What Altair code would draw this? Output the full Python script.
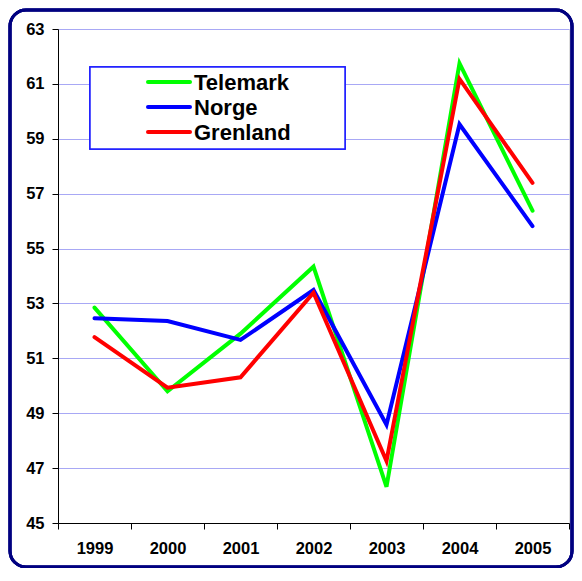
import altair as alt
import pandas as pd

years = ["1999", "2000", "2001", "2002", "2003", "2004", "2005"]
series = ["Telemark", "Norge", "Grenland"]
colors = ["#00ff00", "#0000ff", "#ff0000"]
telemark = [52.85, 49.8, 51.9, 54.34, 46.32, 61.75, 56.38]
norge = [52.46, 52.36, 51.67, 53.49, 48.58, 59.53, 55.82]
grenland = [51.77, 49.93, 50.31, 53.39, 47.26, 61.18, 57.39]

rows = []
for name, vals in zip(series, [telemark, norge, grenland]):
    for y, v in zip(years, vals):
        rows.append({"year": y, "series": name, "value": v})
df = pd.DataFrame(rows)
leg_df = pd.DataFrame({"series": series, "idx": list(range(len(series)))})

W, H = 511, 494
FONT = "Liberation Sans"

color_scale = alt.Scale(domain=series, range=colors)

lines = alt.Chart(df).mark_line(strokeWidth=4, strokeCap="round").encode(
    x=alt.X(
        "year:O",
        scale=alt.Scale(type="band", paddingInner=0, paddingOuter=0),
        bandPosition=0.5,
        axis=alt.Axis(
            title=None, labelAngle=0, tickBand="extent", grid=False,
            labelFont=FONT, labelFontSize=16.5, labelFontWeight="bold",
            labelColor="#000000", labelPadding=11, tickSize=6,
            tickColor="#000000", domainColor="#000000", domainWidth=1,
        ),
    ),
    y=alt.Y(
        "value:Q",
        scale=alt.Scale(domain=[45, 63], nice=False, zero=False),
        axis=alt.Axis(
            title=None, values=list(range(45, 64, 2)), grid=True,
            gridColor="#a8a8f5", gridWidth=1,
            labelFont=FONT, labelFontSize=16.5, labelFontWeight="bold",
            labelColor="#000000", labelPadding=8, tickSize=6,
            tickColor="#000000", domainColor="#000000", domainWidth=1,
        ),
    ),
    color=alt.Color("series:N", scale=color_scale, legend=None),
    detail="series:N",
)

# outer rounded border
border = alt.Chart(leg_df).mark_rect(
    fill=None, stroke="#000080", strokeWidth=3, cornerRadius=16
).encode(
    x=alt.value(-48), x2=alt.value(W + 3),
    y=alt.value(-19), y2=alt.value(H + 44),
)

# legend box
leg_box = alt.Chart(leg_df).mark_rect(
    fill="white", stroke="#2020ff", strokeWidth=1.5
).encode(
    x=alt.value(32), x2=alt.value(287),
    y=alt.value(38), y2=alt.value(120),
)

leg_y = alt.Y("idx:Q", scale=alt.Scale(domain=[0, 2], range=[53, 103]), axis=None)
leg_lines = alt.Chart(leg_df).mark_rule(strokeWidth=4, strokeCap="round").encode(
    x=alt.value(90), x2=alt.value(132),
    y=leg_y,
    color=alt.Color("series:N", scale=color_scale, legend=None),
)
leg_text = alt.Chart(leg_df).mark_text(
    align="left", baseline="middle", font=FONT, fontSize=22,
    fontWeight="bold", color="#000000", dy=1,
).encode(
    x=alt.value(136),
    y=leg_y,
    text="series:N",
)

chart = alt.layer(lines, leg_box, leg_lines, leg_text, border).resolve_scale(
    y="independent"
).properties(
    width=W, height=H,
    autosize=alt.AutoSizeParams(type="none"),
    padding={"left": 50, "top": 21, "right": 5, "bottom": 45},
).configure_view(
    stroke="#808080", strokeWidth=1
).configure(background="white")

chart.save("out.html", embed_options={"renderer": "svg", "actions": False})
